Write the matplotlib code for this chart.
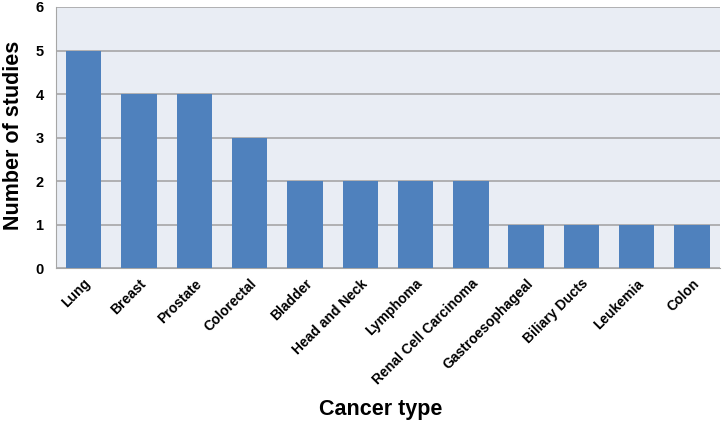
import matplotlib
matplotlib.use("Agg")
import matplotlib.pyplot as plt
import numpy as np

cancer_types = ["Lung", "Breast", "Prostate", "Colorectal", "Bladder", "Head and Neck",
                "Lymphoma", "Renal Cell Carcinoma", "Gastroesophageal", "Biliary Ducts",
                "Leukemia", "Colon"]
n_studies = [5, 4, 4, 3, 2, 2, 2, 2, 1, 1, 1, 1]
y_ticks = [0, 1, 2, 3, 4, 5, 6]

plt.rcParams['font.family'] = ['Liberation Sans', 'DejaVu Sans']
plt.rcParams['font.weight'] = 'bold'

fig = plt.figure(figsize=(7.23, 4.23), dpi=100)
ax = fig.add_axes([0.0775, 0.366, 0.918, 0.6175])
ax.set_facecolor('#E9EDF4')

x = np.arange(len(cancer_types))
ax.bar(x, n_studies, width=0.64, color='#4F81BD', zorder=3)

ax.set_xlim(-0.5, len(cancer_types) - 0.5)
ax.set_ylim(0, 6)
ax.set_yticks(y_ticks)
ax.yaxis.grid(True, color='#A6A6A6', linewidth=1.2, zorder=0)
ax.set_axisbelow(True)

for side in ['top', 'right']:
    ax.spines[side].set_visible(False)
ax.spines['left'].set_color('#A6A6A6')
ax.spines['bottom'].set_color('#A6A6A6')
ax.tick_params(axis='both', length=0, labelsize=10.5)
ax.tick_params(axis='y', pad=9)

ax.set_xticks(x)
ax.set_xticklabels(cancer_types, rotation=45, ha='right', va='top',
                   rotation_mode='anchor', fontsize=10, fontweight='bold')
ax.tick_params(axis='x', pad=6)
for lbl in ax.get_yticklabels():
    lbl.set_fontweight('bold')

fig.text(0.019, 0.68, 'Number of studies', fontsize=15.5, fontweight='bold',
         rotation=90, ha='center', va='center')
fig.text(0.527, 0.031, 'Cancer type', fontsize=15.5, fontweight='bold',
         ha='center', va='center')

fig.savefig('out.png', dpi=100)
